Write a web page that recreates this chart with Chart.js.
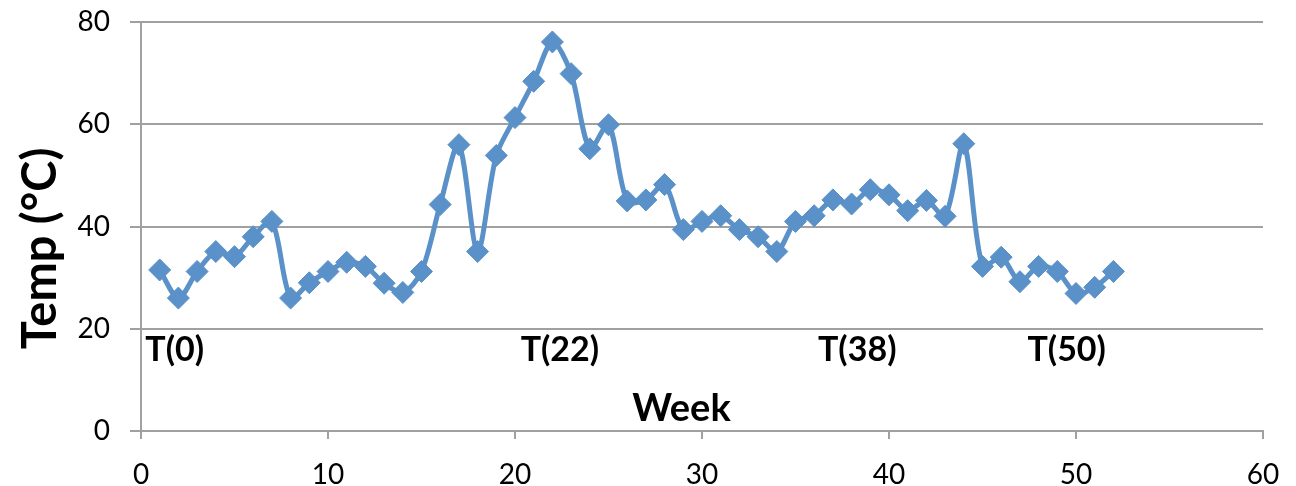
<!DOCTYPE html>
<html lang="en">
<head>
    <meta charset="UTF-8">
    <title>Temp by Week</title>
    <script src="https://cdn.jsdelivr.net/npm/chart.js"></script>
    <style>
        html, body { margin: 0; padding: 0; background: #fff; }
        #wrap { width: 1296px; height: 486px; }
    </style>
</head>
<body>
    <div id="wrap"><canvas id="tempChart" width="1296" height="486"></canvas></div>

    <script>
        // weekly readings
        const weeks = [1, 2, 3, 4, 5, 6, 7, 8, 9, 10, 11, 12, 13, 14, 15, 16, 17, 18, 19, 20, 21, 22, 23, 24, 25, 26,
                       27, 28, 29, 30, 31, 32, 33, 34, 35, 36, 37, 38, 39, 40, 41, 42, 43, 44, 45, 46, 47, 48, 49, 50, 51, 52];
        const temps = [31.5, 26, 31.2, 35.1, 34.1, 38, 41, 26, 29, 31.2, 33, 32.2, 28.9, 27.1, 31.2, 44.3, 56, 35.1, 53.9, 61.3,
                       68.4, 76.1, 69.9, 55.2, 59.9, 45, 45.2, 48.2, 39.4, 41, 42.1, 39.4, 38, 35.1, 41, 42.1, 45.2, 44.4, 47.2, 46.2,
                       43.1, 45.1, 42, 56.2, 32.2, 34, 29.2, 32.2, 31.2, 26.9, 28.1, 31.2];

        // text markers inside the plot
        const phaseLabels = ["T(0)", "T(22)", "T(38)", "T(50)"];
        const phaseLabelX = [1.8, 22.4, 38.3, 49.5];
        const phaseLabelY = 15.8;

        const xTickStep = 10, xMin = 0, xMax = 60;
        const yTickStep = 20, yMin = 0, yMax = 80;

        const gridGrey = "#a0a0a0";
        const lineBlue = "#5a91c8";

        const plotText = {
            id: "plotText",
            afterDatasetsDraw(chart) {
                const { ctx, scales: { x, y } } = chart;
                ctx.save();
                ctx.fillStyle = "#000";
                ctx.textAlign = "center";
                ctx.textBaseline = "middle";
                ctx.font = "bold 34px Lato";
                phaseLabels.forEach((txt, i) => {
                    ctx.fillText(txt, x.getPixelForValue(phaseLabelX[i]), y.getPixelForValue(phaseLabelY));
                });
                ctx.font = "bold 38px Lato";
                ctx.fillText("Week", x.getPixelForValue(28.9), y.getPixelForValue(4.4));

                // y axis title, sits a bit below the middle of the axis like the original
                ctx.translate(41, y.getPixelForValue(35.7));
                ctx.rotate(-Math.PI / 2);
                ctx.font = "bold 47px Lato";
                ctx.fillText("Temp (°C)", 0, 0);
                ctx.restore();
            }
        };

        new Chart(document.getElementById("tempChart"), {
            type: "line",
            data: {
                datasets: [{
                    label: "Temp",
                    data: weeks.map((w, i) => ({ x: w, y: temps[i] })),
                    borderColor: lineBlue,
                    backgroundColor: lineBlue,
                    borderWidth: 5,
                    tension: 0.3,
                    pointStyle: "rectRot",
                    pointRadius: 11,
                    pointBorderWidth: 1,
                    pointBackgroundColor: lineBlue,
                    pointBorderColor: lineBlue,
                    fill: false
                }]
            },
            options: {
                responsive: false,
                animation: false,
                layout: { autoPadding: false, padding: { left: 0, right: 33, top: 22, bottom: 0 } },
                plugins: { legend: { display: false }, tooltip: { enabled: false } },
                scales: {
                    x: {
                        type: "linear",
                        min: xMin, max: xMax,
                        afterFit(scale) { scale.height = 55; scale.paddingLeft = 0; scale.paddingRight = 0; },
                        ticks: { stepSize: xTickStep, color: "#000", padding: 19, font: { family: "Lato", size: 28 } },
                        grid: { drawOnChartArea: false, color: gridGrey, lineWidth: 2, tickLength: 8 },
                        border: { color: gridGrey, width: 2 }
                    },
                    y: {
                        min: yMin, max: yMax,
                        afterFit(scale) { scale.width = 141; scale.paddingTop = 0; scale.paddingBottom = 0; },
                        ticks: { stepSize: yTickStep, color: "#000", padding: 20, font: { family: "Lato", size: 28 } },
                        grid: { color: gridGrey, lineWidth: 2, tickLength: 11 },
                        border: { color: gridGrey, width: 2 },
                        title: { display: false }
                    }
                }
            },
            plugins: [plotText]
        });
    </script>
</body>
</html>
